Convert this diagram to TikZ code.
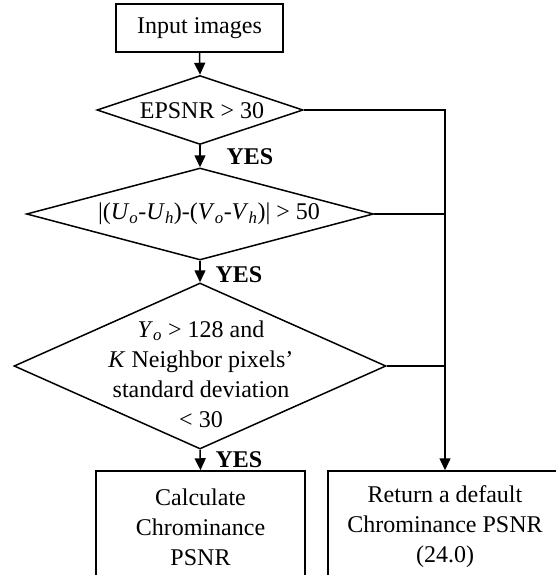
\documentclass[tikz,border=0pt]{standalone}
\usepackage{fontspec}
\setmainfont{Liberation Serif}
\usetikzlibrary{shapes.geometric,arrows.meta}
\begin{document}
\begin{tikzpicture}[x=1pt,y=-1pt,
  txt/.style={font=\fontsize{24}{30}\selectfont, align=center, inner sep=0pt},
  yes/.style={font=\fontsize{24}{30}\selectfont\bfseries, inner sep=0pt},
  boxn/.style={draw, line width=1.5pt, rectangle, inner sep=0pt, align=center, font=\fontsize{24}{30}\selectfont},
  dia/.style={draw, line width=1.5pt, diamond, inner sep=0pt},
  conn/.style={line width=1.5pt},
  arr/.style={line width=1.5pt, -{Triangle[length=12pt,width=11pt]}}]
\useasboundingbox (0,0) rectangle (556,575);
\clip (0,0) rectangle (556,575);
% nodes
\node[boxn, minimum width=167pt, minimum height=48pt] (in) at (199.5,28) {Input images};
\node[dia, minimum width=206pt, minimum height=69pt] (d1) at (200,110) {};
\node[txt] (t1) at (202,111) {EPSNR > 30};
\node[dia, minimum width=347pt, minimum height=92pt] (d2) at (200,214) {};
\node[txt] (t2) at (209,214) {|(\textit{U}\textsubscript{\textit{o}}-\textit{U}\textsubscript{\textit{h}})-(\textit{V}\textsubscript{\textit{o}}-\textit{V}\textsubscript{\textit{h}})| > 50};
\node[dia, minimum width=372pt, minimum height=166pt] (d3) at (200,366) {};
\node[txt] (t3) at (201,374) {\textit{Y}\textsubscript{\textit{o}} > 128 and\\\textit{K} Neighbor pixels’\\standard deviation\\< 30};
\node[boxn, minimum width=209pt, minimum height=112pt] (b1) at (200.5,527) {Calculate\\Chrominance\\PSNR};
\node[boxn, minimum width=234pt, minimum height=112pt] (b2) at (445,527) {Return a default\\Chrominance PSNR\\(24.0)};
\node[yes] (y1) at (250,157) {YES};
\node[yes] (y2) at (239,275) {YES};
\node[yes] (y3) at (239,460) {YES};
\coordinate (r1) at (445,110);
% connectors
\draw[arr] (in.south) -- (d1.north);
\draw[arr] (d1.south) -- (d2.north);
\draw[arr] (d2.south) -- (d3.north);
\draw[arr] (d3.south) -- (b1.north);
\draw[arr] (d1.east) -- (r1) -- (b2.north);
\draw[conn] (d2.east) -- (d2.east -| r1);
\draw[conn] (d3.east) -- (d3.east -| r1);
\end{tikzpicture}
\end{document}
